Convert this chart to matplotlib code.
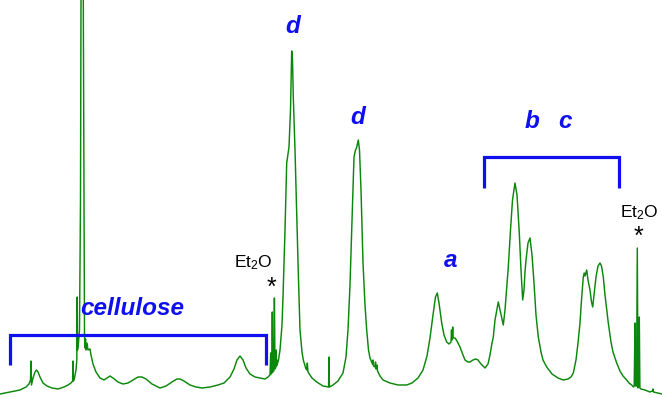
import matplotlib
matplotlib.use("Agg")
import matplotlib.pyplot as plt

plt.rcParams["font.family"] = ["Liberation Sans", "DejaVu Sans"]
plt.rcParams["mathtext.fontset"] = "custom"
plt.rcParams["mathtext.rm"] = "Liberation Sans"
plt.rcParams["mathtext.it"] = "Liberation Sans:italic"
plt.rcParams["mathtext.bf"] = "Liberation Sans:bold"

# Spectrum trace: position along the shift axis and signal intensity
shift = [
    0, 10, 20, 26, 29, 30.5, 31, 31.5, 33, 35, 36.5, 38, 40, 43, 47, 52, 58, 64, 68, 71,
    72.6, 73, 73.4, 74.5, 76, 76.8, 77.2, 77.5, 78.3, 79.5, 80.5, 81, 81.8, 83.3, 84, 84.5,
    85, 85.5, 86, 87, 88, 90, 91, 93, 96, 100, 104, 107, 110, 113, 118, 123, 128, 133, 138,
    142, 146, 152, 160, 166, 172, 177, 180, 184, 190, 196, 202, 210, 218, 224, 230, 234,
    237, 240, 243, 246, 250, 255, 260, 265, 268,
    270, 270.7, 271.1, 271.8, 272.3, 272.8, 273.8, 274.4, 275, 275.6, 276.1, 276.6, 276.9,
    277.3, 278.5, 280, 282, 283, 285, 286.7, 289, 290.5, 291.7, 292.5, 293.3, 295, 296.7,
    298.5, 300, 302, 303.3, 306, 307, 307.3, 308, 312, 316.7, 323, 328.6, 329, 329.4, 333,
    338, 343, 346, 348, 350, 351.7, 354, 355.5, 356.5, 358.3, 359.5, 361, 363, 365, 366.7,
    368.5, 370, 372, 372.5, 373, 373.5, 375, 375.5, 376, 377, 377.5, 380, 383, 390, 398,
    406.7, 412, 418, 423, 427, 430, 433, 435.5, 437.3, 439, 441.7, 444, 446.7, 449, 451,
    451.5, 452, 452.7, 453.2, 455, 457, 460, 463, 465, 468, 470, 473, 475.7, 478, 481, 485,
    488, 490, 492, 493.3, 495, 498.3, 500, 503.3, 505, 506.5, 508.3, 510.5, 512.5, 515, 517,
    519.3, 521, 522.7, 524, 525, 526, 528, 530, 532, 534, 536, 538.3, 541, 543, 546.7, 552,
    558, 563.3, 568, 571, 573.3, 576, 578, 580, 581.5, 583.3, 584.2, 585, 586.7, 588, 590,
    591.5, 592.7, 594, 596, 598, 600, 601.5, 603.3, 605, 608.3, 611, 613, 616.7, 620, 623,
    626.7, 629, 631.7, 633.5, 634.2, 635, 635.6, 636.5, 637.3, 638, 638.7, 639.3, 639.9,
    641, 645, 650, 652.5, 653, 653.5, 658, 662,
]
intensity = [
    4, 6, 8, 11, 14, 18, 37, 13, 20, 26, 28, 26, 21, 15, 12, 10, 9, 11, 13, 15,
    17, 37, 17, 20, 28, 38, 101, 48, 53, 68, 198, 398, 798, 398, 198, 63,
    50, 59, 48, 55, 48, 49, 43, 34, 26, 20, 18, 20, 22, 20, 16, 14, 15, 18, 21,
    21, 19, 14, 10, 12, 16, 19, 19, 17, 13, 11, 10, 11, 13, 15, 21, 29,
    38, 42, 38, 30, 24, 21, 20, 19, 21,
    23, 45, 24, 25, 86, 26, 27, 100, 29, 30, 48, 32, 38,
    34, 38, 48, 73, 101, 168, 235, 251, 288, 347, 338, 301, 248, 185,
    118, 68, 46, 38, 29, 28, 35, 26, 20, 16, 12, 11, 41, 11, 13,
    17, 25, 41, 68, 113, 168, 241, 248, 250, 258, 248, 208, 135, 93, 68,
    48, 40, 35, 34, 38, 32, 31, 36, 29, 33, 27, 22, 18, 15, 13,
    13, 15, 20, 28, 42, 60, 83, 101, 105, 95, 75, 63, 56, 54, 56,
    68, 58, 71, 60, 60, 57, 51, 43, 38, 36, 36, 38, 39, 38, 34, 30,
    34, 43, 55, 61, 78, 96, 88, 73, 88, 108, 131, 168, 198, 215, 203,
    165, 128, 98, 108, 126, 138, 155, 160, 143, 115, 83, 61, 46, 38, 31, 24,
    20, 18, 19, 21, 25, 38, 55, 75, 98, 121, 125, 122, 128, 118, 108,
    96, 91, 103, 121, 132, 135, 132, 121, 103, 75, 56, 46, 35, 27, 22,
    18, 15, 13, 11, 12, 75, 12, 12, 150, 10, 12, 81, 10,
    9, 8, 6, 7, 9, 6, 5, 4,
]

# Assignment labels, brackets and solvent markers
peak_labels = ["d", "d", "a", "b", "c", "cellulose"]
label_pos = [(292.5, 365), (358, 274), (451, 131), (532, 270), (565, 270), (132.5, 83)]
brackets = {"cellulose": (10, 266), "bc": (484.3, 618.7)}
bracket_levels = {"cellulose": (33, 63), "bc": (210, 241)}
solvent_label = "Et$_\\mathregular{2}$O"
solvent_pos = [(253, 131), (639, 181)]
star_pos = [(271.5, 110), (638, 161)]

line_green = "#0b870b"
label_blue = "#0f0ff0"

fig = plt.figure(figsize=(6.62, 3.98), dpi=100)
ax = fig.add_axes([0, 0, 1, 1])
ax.set_xlim(0, 662)
ax.set_ylim(0, 398)
ax.axis("off")

ax.plot(shift, intensity, color=line_green, lw=1.05, solid_joinstyle="round")

for key, (x0, x1) in brackets.items():
    lo, hi = bracket_levels[key]
    ax.plot([x0, x0, x1, x1], [lo, hi, hi, lo], color=label_blue, lw=2.3,
            solid_joinstyle="miter", solid_capstyle="butt")

for text, (x, y) in zip(peak_labels, label_pos):
    ax.text(x, y, text, color=label_blue, fontsize=17.5, fontweight="bold",
            fontstyle="italic", ha="center", va="baseline")

for x, y in solvent_pos:
    ax.text(x, y, solvent_label, color="black", fontsize=12.5, ha="center", va="baseline")

for x, y in star_pos:
    ax.text(x, y, "*", color="black", fontsize=18, ha="center", va="center")

fig.savefig("out.png", dpi=100)
